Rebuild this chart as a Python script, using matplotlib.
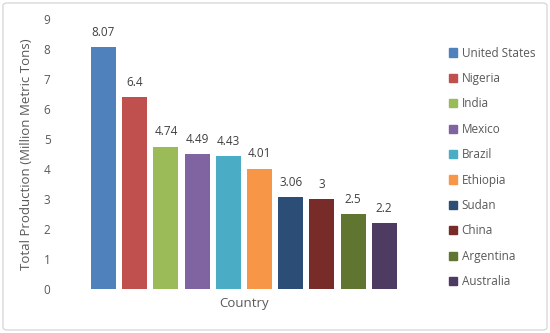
import matplotlib
matplotlib.use("Agg")
import matplotlib.pyplot as plt
from matplotlib.patches import FancyBboxPatch, Patch

countries = ["United States", "Nigeria", "India", "Mexico", "Brazil", "Ethiopia",
             "Sudan", "China", "Argentina", "Australia"]
values = [8.07, 6.4, 4.74, 4.49, 4.43, 4.01, 3.06, 3, 2.5, 2.2]
labels = ["8.07", "6.4", "4.74", "4.49", "4.43", "4.01", "3.06", "3", "2.5", "2.2"]
colors = ["#4F81BD", "#C0504D", "#9BBB59", "#8064A2", "#4BACC6", "#F79646",
          "#2C4D75", "#772C2A", "#5F7530", "#4D3B62"]

plt.rcParams['font.family'] = ['Open Sans', 'DejaVu Sans']
txt = "#595959"

fig = plt.figure(figsize=(5.5, 3.33), dpi=100)
fig.patches.append(FancyBboxPatch((3/550, 3/333), 544/550, 327/333,
                                  boxstyle="round,pad=0,rounding_size=0.008",
                                  transform=fig.transFigure, fc="none",
                                  ec="#D9D9D9", lw=1.0, zorder=-1))
W, H = 550, 333
L, R, B, T = 77, 412, 289, 19
ax = fig.add_axes([L/W, (H-B)/H, (R-L)/W, (B-T)/H])
ax.set_facecolor("none")

x = list(range(len(values)))
bars = ax.bar(x, values, width=0.8, color=colors, label=countries)
for xi, v, lab in zip(x, values, labels):
    ax.annotate(lab, (xi, v), xytext=(0, 6), textcoords="offset points",
                ha="center", va="bottom", fontsize=8.5, color="#404040")

ax.set_xlim(-0.85, 9.89)
ax.set_ylim(0, 9)
ax.set_yticks(range(10))
ax.tick_params(axis="y", length=0, labelsize=8.5, labelcolor=txt, pad=19)
ax.set_xticks([])
for s in ax.spines.values():
    s.set_visible(False)
ax.set_xlabel("Country", fontsize=9.5, color=txt, labelpad=6)
ax.set_ylabel("Total Production (Million Metric Tons)", fontsize=9.5, color=txt, labelpad=8)

handles = [Patch(color=c) for c in colors]
fig.legend(handles, countries, loc="upper left", bbox_to_anchor=(438/W, 1 - 36/H),
           frameon=False, fontsize=8.5, labelcolor=txt, handlelength=0.7,
           handleheight=0.7, handletextpad=0.4, labelspacing=1.05)

fig.savefig("out.png", dpi=100)
